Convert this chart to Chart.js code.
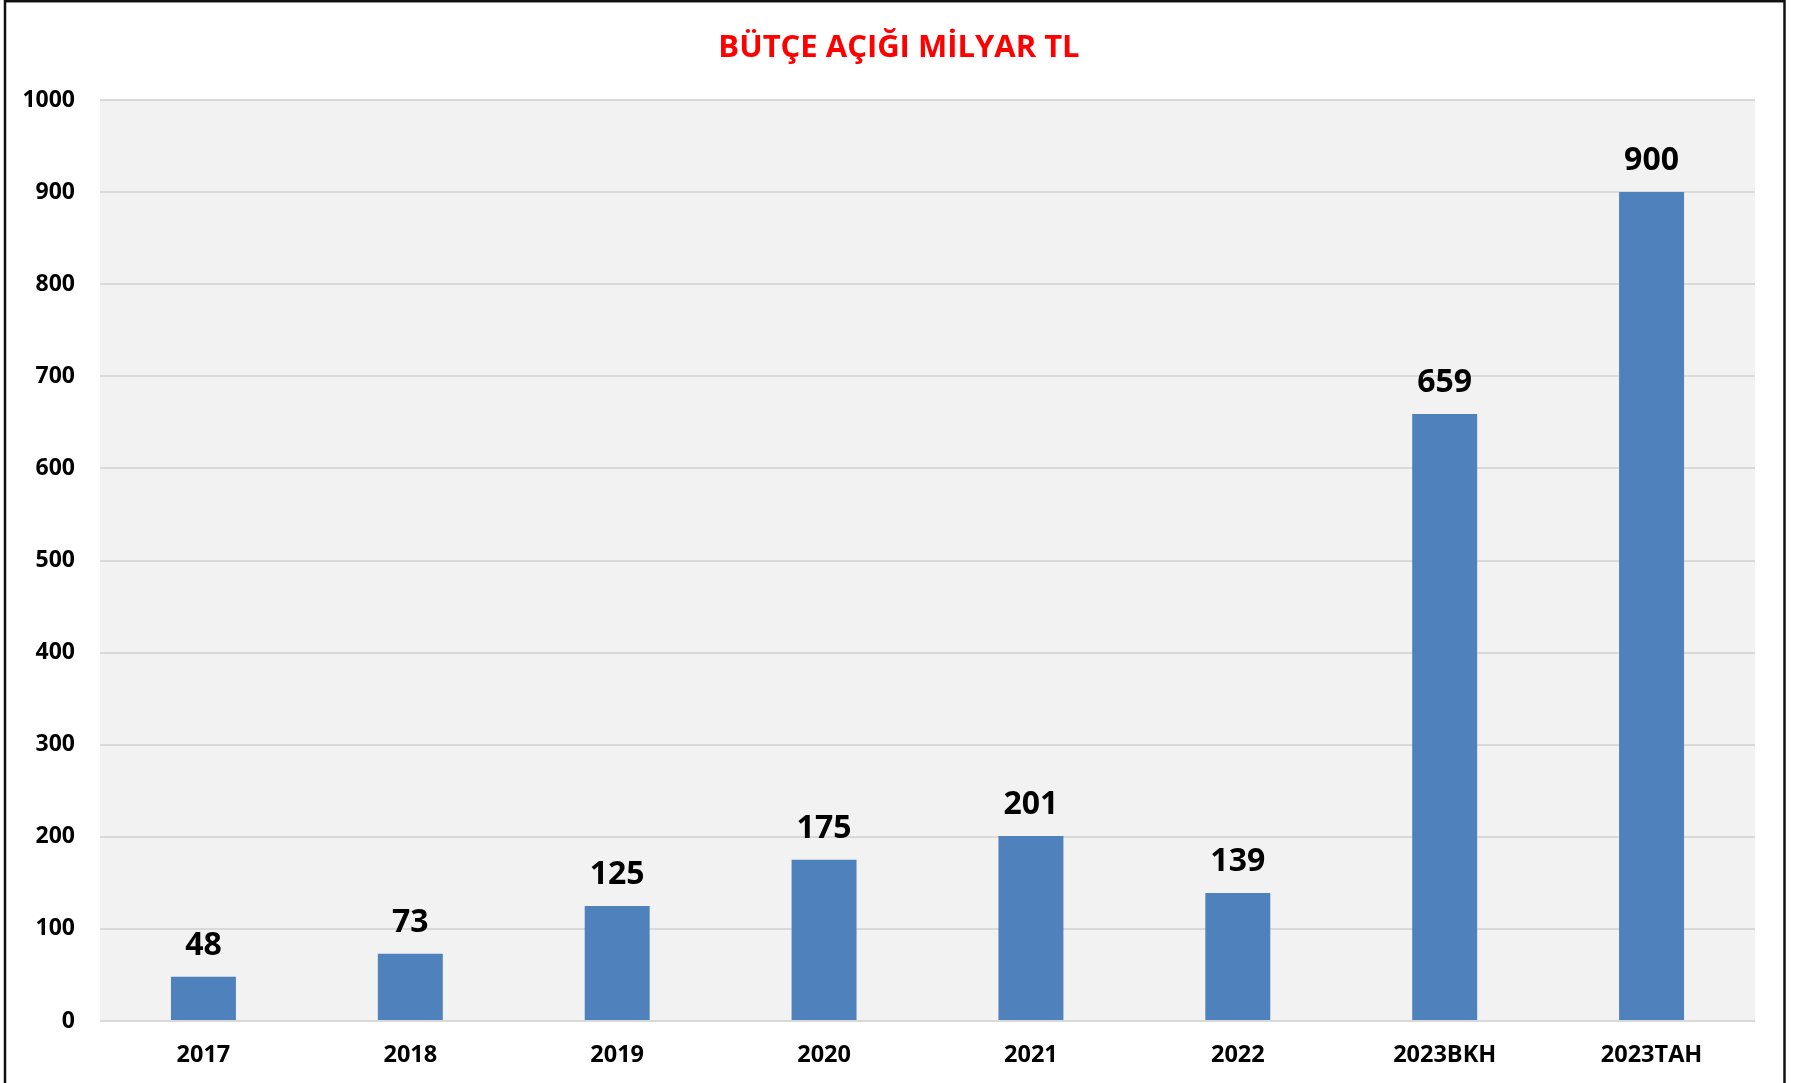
<!DOCTYPE html>
<html>
<head>
<meta charset="utf-8">
<script src="https://cdn.jsdelivr.net/npm/chart.js@4.4.0/dist/chart.umd.min.js"></script>
<style>
  html, body { margin: 0; padding: 0; background: #fff; }
  #wrap { width: 1798px; height: 1083px; }
</style>
</head>
<body>
<div id="wrap"><canvas id="budget-chart" width="1798" height="1083"></canvas></div>
<script>
// chart data
const categories = ['2017', '2018', '2019', '2020', '2021', '2022', '2023BKH', '2023TAH'];
const deficitValues = [48, 73, 125, 175, 201, 139, 659, 900];
const yTicks = [0, 100, 200, 300, 400, 500, 600, 700, 800, 900, 1000];

const barColor = '#4F81BD';
const gridColor = '#D9D9D9';
const plotBg = '#F2F2F2';
const fontFamily = '"Open Sans", "DejaVu Sans", sans-serif';

// plot area fill + outer frame
const frameAndBg = {
  id: 'frameAndBg',
  beforeDraw(chart) {
    const { ctx, chartArea } = chart;
    ctx.save();
    ctx.fillStyle = '#fff';
    ctx.fillRect(0, 0, chart.width, chart.height);
    ctx.fillStyle = plotBg;
    ctx.fillRect(chartArea.left, chartArea.top, chartArea.right - chartArea.left, chartArea.bottom - chartArea.top);
    ctx.restore();
  },
  afterDraw(chart) {
    const ctx = chart.ctx;
    ctx.save();
    ctx.strokeStyle = '#111';
    ctx.lineWidth = 2.5;
    ctx.strokeRect(5, 1.2, 1779.5, chart.height + 10);
    ctx.restore();
  }
};

// value labels above the bars
const valueLabels = {
  id: 'valueLabels',
  afterDatasetsDraw(chart) {
    const ctx = chart.ctx;
    const meta = chart.getDatasetMeta(0);
    ctx.save();
    ctx.font = 'bold 32px ' + fontFamily;
    ctx.fillStyle = '#000';
    ctx.textAlign = 'center';
    ctx.textBaseline = 'alphabetic';
    meta.data.forEach((bar, i) => {
      ctx.fillText(String(deficitValues[i]), bar.x, bar.y - 22);
    });
    ctx.restore();
  }
};

new Chart(document.getElementById('budget-chart'), {
  type: 'bar',
  data: {
    labels: categories,
    datasets: [{
      data: deficitValues,
      backgroundColor: barColor,
      borderWidth: 0,
      categoryPercentage: 1,
      barPercentage: 0.314
    }]
  },
  options: {
    responsive: false,
    animation: false,
    devicePixelRatio: 1,
    layout: {
      padding: 0
    },
    plugins: {
      legend: { display: false },
      tooltip: { enabled: false },
      title: {
        display: true,
        text: 'BÜTÇE AÇIĞI MİLYAR TL',
        color: '#FF0000',
        font: { family: fontFamily, size: 31, weight: 'bold', lineHeight: 1.2 },
        padding: { top: 29.5, bottom: 33.3 }
      }
    },
    scales: {
      x: {
        grid: { display: false, drawTicks: false },
        border: { display: false },
        ticks: {
          color: '#000',
          padding: 20,
          font: { family: fontFamily, size: 23.5, weight: 'bold' }
        },
        afterFit(scale) { scale.height = 62; }
      },
      y: {
        min: 0,
        max: 1000,
        afterBuildTicks(scale) { scale.ticks = yTicks.map(v => ({ value: v })); },
        grid: { color: gridColor, lineWidth: 2, drawTicks: false },
        border: { display: false },
        ticks: {
          color: '#000',
          padding: 25,
          font: { family: fontFamily, size: 23, weight: 'bold' },
          callback: (v) => String(v)
        },
        afterFit(scale) { scale.width = 100; }
      },
      // empty right-hand strip so the title stays centred on the full width
      yRight: {
        position: 'right',
        display: true,
        grid: { display: false, drawTicks: false },
        border: { display: false },
        ticks: { display: false },
        afterFit(scale) { scale.width = 43; }
      }
    }
  },
  plugins: [frameAndBg, valueLabels]
});
</script>
</body>
</html>
